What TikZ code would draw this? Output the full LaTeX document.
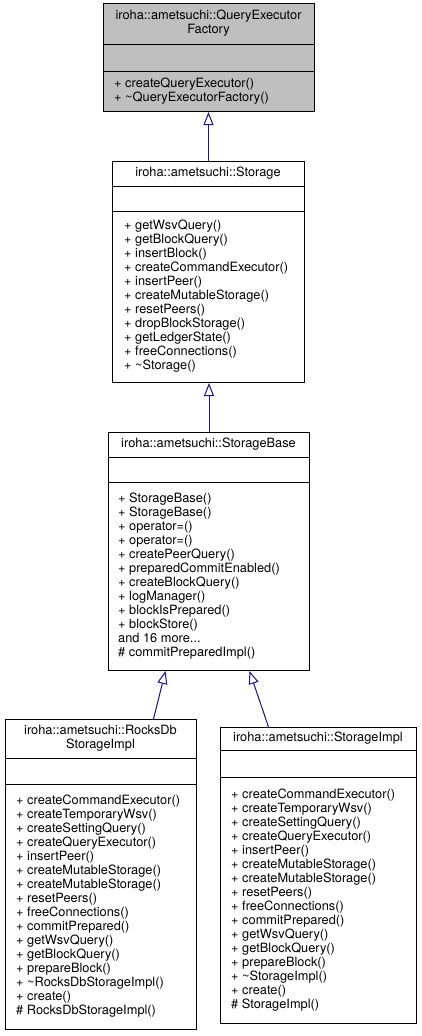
\documentclass[tikz,border=0pt]{standalone}
\usepackage{fontspec}
\setmainfont{TeX Gyre Heros}
\usetikzlibrary{arrows.meta}
\definecolor{edgeblue}{RGB}{25,25,112}
\definecolor{basegray}{RGB}{191,191,191}

\begin{document}
\begin{tikzpicture}[x=1pt,y=-1pt,
  classbox/.style={draw=black,line width=1pt,inner sep=0pt,anchor=north west},
  divider/.style={black,line width=1pt},
  clsname/.style={align=center,inner sep=0pt,font=\fontsize{12.8}{14}\selectfont},
  members/.style={align=left,inner sep=0pt,anchor=west,font=\fontsize{12.8}{14}\selectfont},
  inherit/.style={edgeblue,line width=1pt,-{Triangle[open,length=13pt,width=10pt]}}]
  \useasboundingbox (0,0) rectangle (421,1036);
  % top interface, grey
  \node[classbox,fill=basegray,minimum width=211pt,minimum height=108pt] (qef) at (103,3) {};
  \draw[divider] (qef.west |- 0,44) -- (qef.east |- 0,44);
  \draw[divider] (qef.west |- 0,71) -- (qef.east |- 0,71);
  \node[clsname] (qef-name) at (208.5,23.5) {iroha::ametsuchi::QueryExecutor\\Factory};
  \node[members] (qef-ops) at (114,91) {+ createQueryExecutor()\\+ \textasciitilde QueryExecutorFactory()};
  % Storage
  \node[classbox,minimum width=192pt,minimum height=221pt] (sto) at (112,161) {};
  \draw[divider] (sto.west |- 0,186) -- (sto.east |- 0,186);
  \draw[divider] (sto.west |- 0,211) -- (sto.east |- 0,211);
  \node[clsname] (sto-name) at (208,173.5) {iroha::ametsuchi::Storage};
  \node[members] (sto-ops) at (124,296.5) {+ getWsvQuery()\\+ getBlockQuery()\\+ insertBlock()\\
    + createCommandExecutor()\\+ insertPeer()\\+ createMutableStorage()\\+ resetPeers()\\
    + dropBlockStorage()\\+ getLedgerState()\\+ freeConnections()\\+ \textasciitilde Storage()};
  % StorageBase
  \node[classbox,minimum width=201pt,minimum height=238pt] (base) at (108,432) {};
  \draw[divider] (base.west |- 0,457) -- (base.east |- 0,457);
  \draw[divider] (base.west |- 0,482) -- (base.east |- 0,482);
  \node[clsname] (base-name) at (208.5,444.5) {iroha::ametsuchi::StorageBase};
  \node[members] (base-ops) at (118,576) {+ StorageBase()\\+ StorageBase()\\+ operator=()\\+ operator=()\\
    + createPeerQuery()\\+ preparedCommitEnabled()\\+ createBlockQuery()\\+ logManager()\\
    + blockIsPrepared()\\+ blockStore()\\and 16 more...\\\# commitPreparedImpl()};
  % the two implementations
  \node[classbox,minimum width=191pt,minimum height=310pt] (rdb) at (5,719) {};
  \draw[divider] (rdb.west |- 0,758) -- (rdb.east |- 0,758);
  \draw[divider] (rdb.west |- 0,784) -- (rdb.east |- 0,784);
  \node[clsname] (rdb-name) at (100.5,738.5) {iroha::ametsuchi::RocksDb\\StorageImpl};
  \node[members] (rdb-ops) at (16,906.5) {+ createCommandExecutor()\\+ createTemporaryWsv()\\
    + createSettingQuery()\\+ createQueryExecutor()\\+ insertPeer()\\+ createMutableStorage()\\
    + createMutableStorage()\\+ resetPeers()\\+ freeConnections()\\+ commitPrepared()\\
    + getWsvQuery()\\+ getBlockQuery()\\+ prepareBlock()\\+ \textasciitilde RocksDbStorageImpl()\\
    + create()\\\# RocksDbStorageImpl()};
  \node[classbox,minimum width=196pt,minimum height=296pt] (impl) at (220,727) {};
  \draw[divider] (impl.west |- 0,750) -- (impl.east |- 0,750);
  \draw[divider] (impl.west |- 0,777) -- (impl.east |- 0,777);
  \node[clsname] (impl-name) at (318,738.5) {iroha::ametsuchi::StorageImpl};
  \node[members] (impl-ops) at (231,900) {+ createCommandExecutor()\\+ createTemporaryWsv()\\
    + createSettingQuery()\\+ createQueryExecutor()\\+ insertPeer()\\+ createMutableStorage()\\
    + createMutableStorage()\\+ resetPeers()\\+ freeConnections()\\+ commitPrepared()\\
    + getWsvQuery()\\+ getBlockQuery()\\+ prepareBlock()\\+ \textasciitilde StorageImpl()\\
    + create()\\\# StorageImpl()};
  % inheritance
  \draw[inherit] (sto.north) -- (sto.north |- qef.south);
  \draw[inherit] (base.north) -- (base.north |- sto.south);
  \draw[inherit] ([xshift=52.5pt]rdb.north) -- ([xshift=-43.5pt]base.south);
  \draw[inherit] ([xshift=-50pt]impl.north) -- ([xshift=40.5pt]base.south);
\end{tikzpicture}
\end{document}
